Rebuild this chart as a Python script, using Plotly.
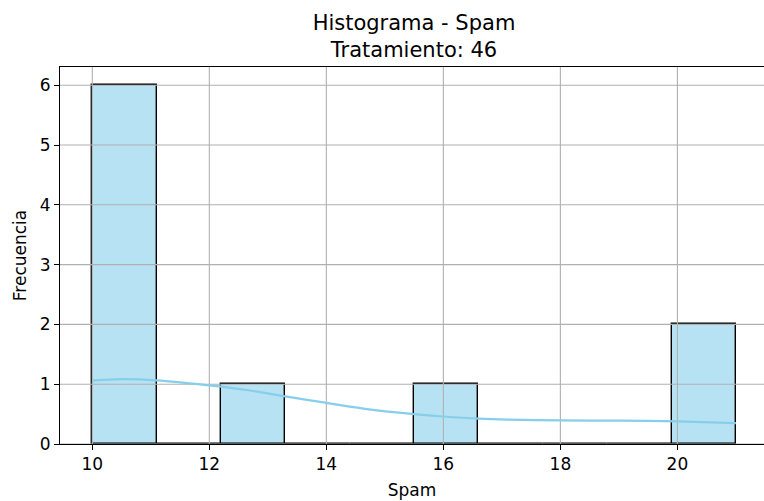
import numpy as np
import plotly.graph_objects as go

# ---- data ----
bin_start = 10.0
bin_end = 21.0
counts = [6, 0, 1, 0, 0, 1, 0, 0, 0, 2]

kde_x = [10, 10.5, 11.1, 12, 12.7, 13.3, 13.95, 14.4, 14.8, 15.5, 16, 16.6, 17.1, 18, 19, 20, 21]
kde_y = [1.06, 1.085, 1.065, 0.98, 0.895, 0.795, 0.695, 0.625, 0.57, 0.50, 0.46, 0.423, 0.406, 0.395, 0.39, 0.378, 0.35]

x_ticks = [10, 12, 14, 16, 18, 20]
y_ticks = [0, 1, 2, 3, 4, 5, 6]

title_text = "Histograma - Spam<br>Tratamiento: 46"
x_label = "Spam"
y_label = "Frecuencia"

# ---- derived ----
n_bins = len(counts)
edges = np.linspace(bin_start, bin_end, n_bins + 1)
centers = (edges[:-1] + edges[1:]) / 2
bw = edges[1] - edges[0]

x_range = [9.448, 21.48]
y_range = [0, 6.305]

FONT = "DejaVu Sans"
GRID = "#b0b0b0"

fig = go.Figure()

# bars
fig.add_trace(go.Bar(
    x=centers, y=counts, width=bw,
    marker=dict(color="rgba(135,206,235,0.6)", line=dict(color="black", width=1.4)),
    hoverinfo="skip", showlegend=False,
))

# gridlines (drawn above bars, below the KDE line, as in matplotlib)
gx, gy = [], []
for t in x_ticks:
    gx += [t, t, None]
    gy += [y_range[0], y_range[1], None]
for t in y_ticks:
    gx += [x_range[0], x_range[1], None]
    gy += [t, t, None]
fig.add_trace(go.Scatter(
    x=gx, y=gy, mode="lines", line=dict(color=GRID, width=1.1),
    hoverinfo="skip", showlegend=False,
))

# KDE
fig.add_trace(go.Scatter(
    x=kde_x, y=kde_y, mode="lines",
    line=dict(color="rgb(135,206,235)", width=2.2, shape="spline", smoothing=0.8),
    hoverinfo="skip", showlegend=False,
))

fig.update_layout(
    width=764, height=501,
    margin=dict(l=60, r=0, t=67, b=57),
    paper_bgcolor="white", plot_bgcolor="white",
    font=dict(family=FONT, size=17, color="black"),
    bargap=0,
    title=dict(
        text=title_text, font=dict(family=FONT, size=21, color="black"),
        x=414 / 764, xref="container", xanchor="center",
        y=0.94, yref="container", yanchor="top",
    ),
    xaxis=dict(
        range=x_range, tickvals=x_ticks, showgrid=False, zeroline=False,
        showline=True, linecolor="black", linewidth=1.1, mirror=True,
        ticks="outside", ticklen=5, tickwidth=1.1, tickcolor="black",
        tickfont=dict(size=17),
        title=dict(text=x_label, font=dict(size=17), standoff=10),
    ),
    yaxis=dict(
        range=y_range, tickvals=y_ticks, showgrid=False, zeroline=False,
        showline=True, linecolor="black", linewidth=1.1,
        ticks="outside", ticklen=5, tickwidth=1.1, tickcolor="black",
        tickfont=dict(size=17),
        title=dict(text=y_label, font=dict(size=17), standoff=8),
    ),
)

fig.write_html("out.html")
